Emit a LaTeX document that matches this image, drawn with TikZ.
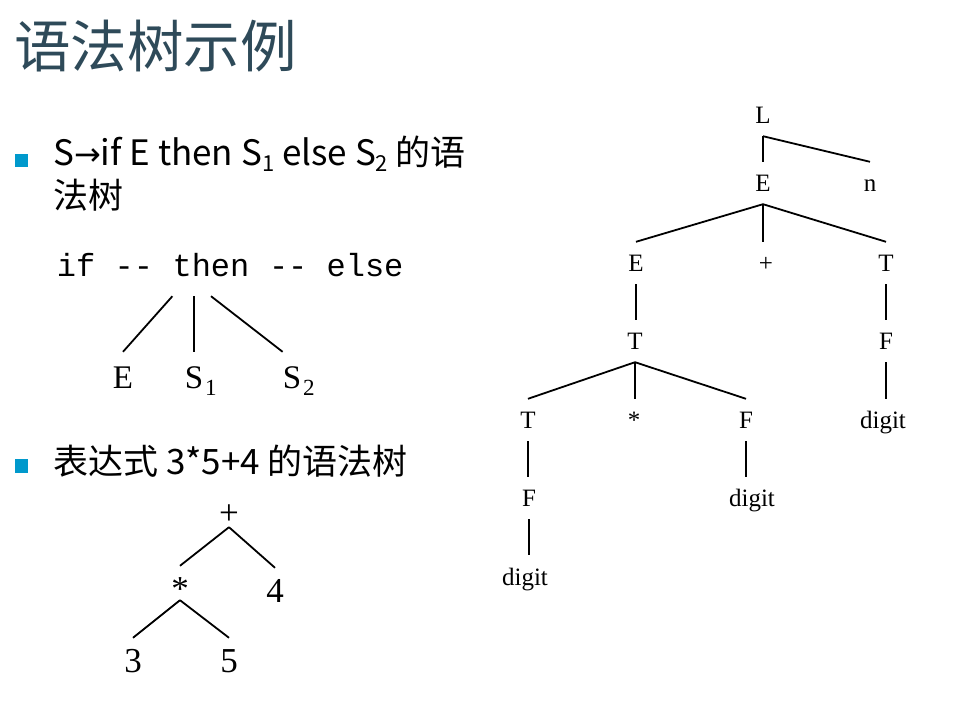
\documentclass[tikz,border=0pt]{standalone}
\usepackage{fontspec}
\setmainfont{Liberation Serif}
\setmonofont{Liberation Mono}
\newfontfamily\cjk{Noto Sans CJK SC}
\newfontfamily\arrowfont{DejaVu Sans}
\newcommand\lowidx[1]{\raisebox{-6pt}{\fontsize{22}{22}\selectfont #1}}
\usetikzlibrary{positioning}
\definecolor{titleblue}{RGB}{46,74,89}
\definecolor{bulletblue}{RGB}{0,153,204}

\begin{document}
\begin{tikzpicture}[x=1pt,y=-1pt,
    heading/.style={anchor=base west, inner sep=0, text=titleblue,
        font=\cjk\fontsize{56.5}{56.5}\selectfont},
    bulletbox/.style={fill=bulletblue, inner sep=0, minimum size=13},
    item/.style={anchor=north west, inner sep=0, align=left,
        font=\cjk\fontsize{35}{43}\selectfont},
    code/.style={anchor=base, inner sep=0, text height=20pt, text depth=0pt,
        font=\ttfamily\fontsize{32}{32}\selectfont},
    bignode/.style={anchor=base, inner sep=0, text height=34pt, text depth=0pt,
        font=\fontsize{35}{35}\selectfont},
    leafnode/.style={bignode, text height=37pt, font=\fontsize{33}{33}\selectfont},
    smallnode/.style={anchor=base, inner xsep=1pt, inner ysep=0pt,
        text height=30pt, text depth=12pt, font=\fontsize{25}{25}\selectfont},
    edge/.style={line width=1.8pt},
]

\useasboundingbox (0,0) rectangle (954,703);

\node[heading] (title) at (14,68) {语法树示例};

% first item: if -- then -- else
\node[bulletbox] (bul1) at (21,161) {};
\node[item] (item1) at (53,136)
    {S{\arrowfont\fontsize{32}{32}\selectfont →}if E then S\lowidx{1} else S\lowidx{2} 的语\\法树};

\node[code, text depth=19pt] (then) at (211,277) {then};
\node[code, base left=19.2pt of then] (ifkw) {if --};
\node[code, base right=19.2pt of then] (elsekw) {-- else};

\node[leafnode] (cond) at (123,389) {E};
\node[leafnode] (sone) at (201,389) {S\kern2pt\textsubscript{1}};
\node[leafnode] (stwo) at (299,389) {S\kern2pt\textsubscript{2}};

\draw[edge] (then.south west) -- (cond.north);
\draw[edge] ([xshift=9pt]sone.north west |- then.south) -- ([xshift=9pt]sone.north west);
\draw[edge] (then.south) -- (stwo.north west);

% second item: 3*5+4
\node[bulletbox] (bul2) at (21,466) {};
\node[item, anchor=base west] (item2) at (53,475) {表达式 3*5+4 的语法树};

\node[bignode, text depth=3pt] (add) at (229,524) {+};
\node[bignode] (mul) at (180,600) {*};
\node[bignode] (four) at (275,602) {4};
\node[bignode] (three) at (133,672) {3};
\node[bignode] (five) at (229,672) {5};

\foreach \a/\b in {add/mul, add/four, mul/three, mul/five}
    \draw[edge] (\a.south) -- (\b.north);

% derivation tree of 3*5+4 n
\node[smallnode] (L) at (763,124) {L};
\node[smallnode] (E1) at (763,192) {E};
\node[smallnode] (n) at (870,192) {n};
\node[smallnode] (E2) at (636,272) {E};
\node[smallnode] (plus) at (766,272) {+};
\node[smallnode] (T1) at (886,272) {T};
\node[smallnode] (T2) at (635,350) {T};
\node[smallnode] (F1) at (886,350) {F};
\node[smallnode] (T3) at (528,429) {T};
\node[smallnode] (times) at (634,429) {*};
\node[smallnode] (F2) at (746,429) {F};
\node[smallnode] (dig1) at (883,429) {digit};
\node[smallnode] (F3) at (529,507) {F};
\node[smallnode] (dig2) at (752,507) {digit};
\node[smallnode] (dig3) at (525,585) {digit};

\foreach \a/\b in {L/n, E1/E2, E1/T1, T2/T3, T2/F2}
    \draw[edge] (\a.south) -- (\b.north);
\foreach \a/\b in {L/E1, E1/plus, E2/T2, T1/F1, T2/times, F1/dig1, T3/F3, F2/dig2, F3/dig3}
    \draw[edge] (\a.south) -- (\a.south |- \b.north);
\end{tikzpicture}
\end{document}
